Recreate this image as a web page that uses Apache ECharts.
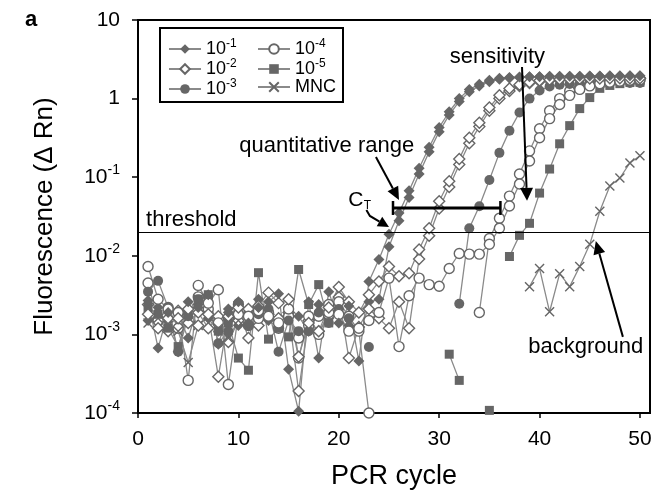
<!DOCTYPE html>
<html><head><meta charset="utf-8">
<script src="https://cdn.jsdelivr.net/npm/echarts@6/dist/echarts.min.js"></script>
<style>html,body{margin:0;padding:0;background:#fff}#c{width:672px;height:496px}</style>
</head><body><div id="c"></div>
<script>
const FONT = '"Liberation Sans", Arial, Helvetica, sans-serif';
const cycles = [1,2,3,4,5,6,7,8,9,10,11,12,13,14,15,16,17,18,19,20,21,22,23,24,25,26,27,28,29,30,31,32,33,34,35,36,37,38,39,40,41,42,43,44,45,46,47,48,49,50];
const xTicks = [0,10,20,30,40,50];
const THRESHOLD = 0.0205;

// 10^-1 (two replicate wells)
const d1a = [0.0027,0.00067,0.0019,0.0006,0.0026,0.0022,0.0032,0.00075,0.0019,0.0026,
  0.0014,0.0022,0.0026,0.0033,0.00036,0.000105,0.0026,0.0005,0.0035,0.0014,
  0.0023,0.00046,0.0047,0.009,0.0188,0.035,0.067,0.13,0.24,0.43,
  0.68,1.0,1.31,1.52,1.71,1.81,1.86,1.88,1.9,1.9,
  1.92,1.92,1.93,1.93,1.94,1.94,1.95,1.95,1.95,1.96];
const d1b = [0.0015,0.0022,0.0012,0.0018,0.0009,0.0024,0.0016,0.0011,0.0021,0.0013,
  0.0019,0.0028,0.0015,0.0012,0.0022,0.0017,0.0011,0.0024,0.0016,0.0021,
  0.0013,0.0019,0.0026,0.0028,0.013,0.028,0.055,0.11,0.21,0.38,
  0.62,0.92,1.22,1.45,1.64,1.76,1.83,1.86,1.88,1.89,
  1.9,1.9,1.91,1.91,1.92,1.92,1.93,1.93,1.94,1.94];
// 10^-2
const d2a = [0.0018,0.0012,0.0016,0.0016,0.0021,0.0013,0.0018,0.00029,0.0017,0.0022,
  0.0009,0.0023,0.0034,0.0025,0.0028,0.00052,0.0014,0.0011,0.0022,0.004,
  0.0026,0.0019,0.0032,0.0047,0.0073,0.0055,0.006,0.012,0.0224,0.0495,
  0.089,0.171,0.318,0.494,0.77,1.1,1.34,1.5,1.62,1.7,
  1.74,1.76,1.78,1.79,1.8,1.8,1.81,1.81,1.82,1.82];
const d2b = [0.0024,0.0016,0.0011,0.002,0.0014,0.0019,0.0012,0.0017,0.0008,0.0015,
  0.0021,0.0013,0.0018,0.0016,0.0019,0.00019,0.0015,0.0011,0.0017,0.003,
  0.0005,0.00124,0.0021,0.0016,0.0012,0.0026,0.0012,0.0091,0.018,0.04,
  0.075,0.145,0.27,0.44,0.7,1.0,1.25,1.45,1.58,1.66,
  1.71,1.74,1.76,1.77,1.78,1.79,1.8,1.8,1.81,1.81];
// 10^-3
const d3 = [0.0035,0.0048,0.0022,0.0006,0.0017,0.0028,0.003,0.00077,0.0011,0.0025,
  0.0013,0.0018,0.0021,0.0006,0.0015,0.0011,0.0011,0.0019,0.0014,0.0021,
  0.0016,null,0.00069,null,null,null,null,null,null,null,
  null,0.00245,0.0224,0.0427,0.092,0.204,0.39,0.664,1.0,1.27,
  1.43,1.5,1.53,1.55,1.56,1.57,1.57,1.58,1.58,1.58];
// 10^-4 (two replicate wells)
const d4a = [0.0073,0.0028,0.0021,0.0019,0.00026,0.0042,0.0025,0.0037,0.00023,0.0018,
  0.0017,0.002,0.0017,0.0014,0.0021,0.0005,0.0017,0.001,0.0019,0.0018,
  0.0011,0.0012,0.0015,0.0019,0.0052,0.0007,0.0031,0.0052,0.0043,0.0041,
  0.0069,0.0107,0.0105,0.0105,0.014,0.0224,0.043,0.082,0.161,0.318,
  0.556,0.84,1.1,1.31,1.45,1.55,1.62,1.67,1.71,1.74];
const d4b = [0.0045,0.0015,0.0022,0.0012,0.0019,0.003,0.0021,0.0014,0.0016,0.0024,
  0.0013,0.0016,0.0019,0.0012,0.0017,0.0009,0.0013,0.0017,0.0024,0.0026,
  0.0017,0.0011,0.0001,null,null,null,null,null,null,null,
  null,null,null,0.0019,0.0166,0.03,0.0575,0.11,0.216,0.414,
  0.7,1.0,1.25,1.42,1.52,1.6,1.65,1.69,1.72,1.75];
// 10^-5
const d5 = [0.0022,0.0018,0.0012,0.0007,0.0018,0.0028,0.0032,0.0011,0.0014,0.0005,
  0.00035,0.0061,0.00087,0.0012,0.00093,0.0067,0.0024,0.0043,0.0014,null,
  null,null,null,null,null,null,null,null,null,null,
  0.00056,0.00026,null,null,0.000108,null,0.0098,0.0182,0.0259,0.0628,
  0.127,0.266,0.453,0.746,1.03,1.35,1.47,1.55,1.6,1.61];
// MNC
const dM = [0.0014,0.0016,0.0013,0.0011,0.00044,0.0013,0.0017,0.0012,0.0009,0.0015,
  null,null,null,null,null,null,null,null,null,null,
  null,null,null,null,null,null,null,null,null,null,
  null,null,null,null,null,null,null,null,0.00405,0.00687,
  0.00194,0.00593,0.00405,0.0073,0.014,0.0369,0.0771,0.0977,0.152,0.187];

const names = ['10^-1','10^-2','10^-3','10^-4','10^-5','MNC'];

const LINE = '#8a8a8a', FILL = '#666666', EDGE = '#666666';
const CROSS = 'path://M0,0L10,10M10,0L0,10';

function pairs(vals){ return cycles.map((c,i)=>[c, vals[i]]); }
function mk(name, vals, symbol, filled, size){
  return {
    name, type:'line', data: pairs(vals), symbol, symbolSize: size,
    connectNulls:false, showAllSymbol:true,
    lineStyle:{color:LINE, width:1.3},
    itemStyle: symbol===CROSS ? {color:'rgba(0,0,0,0)', borderColor:EDGE, borderWidth:1.4}
      : (filled ? {color:FILL, borderColor:FILL, borderWidth:0} : {color:'#fff', borderColor:EDGE, borderWidth:1.4}),
    emphasis:{disabled:true}, animation:false
  };
}

const series = [
  mk(names[0], d1b, 'diamond', true, 11),
  mk(names[1], d2b, 'diamond', false, 11),
  mk(names[3], d4b, 'circle', false, 10),
  mk(names[5], dM, CROSS, false, 9),
  mk(names[4], d5, 'rect', true, 9),
  mk(names[2], d3, 'circle', true, 10),
  mk(names[3], d4a, 'circle', false, 10),
  mk(names[1], d2a, 'diamond', false, 11),
  mk(names[0], d1a, 'diamond', true, 11)
];
series[0].markLine = {silent:true, symbol:['none','none'], label:{show:false},
  lineStyle:{color:'#000', width:1.2, type:'solid'}, data:[{yAxis:THRESHOLD}]};

const legRich = {
  b:{fontSize:18, lineHeight:22, fontFamily:FONT, color:'#000'},
  s:{fontSize:12, lineHeight:11, verticalAlign:'top', fontFamily:FONT, color:'#000'}
};
function legFmt(n){ return n.indexOf('10^')===0 ? '{b|10}{s|'+n.slice(3)+'}' : '{b|'+n+'}'; }
const legBase = {orient:'vertical', itemWidth:32, itemHeight:12, itemGap:0, itemSymbolKeepAspect:true,
  formatter:legFmt, textStyle:{rich:legRich, fontFamily:FONT}, selectedMode:false, padding:0};

const chart = echarts.init(document.getElementById('c'), null, {renderer:'canvas'});
chart.setOption({
  animation:false,
  backgroundColor:'#fff',
  textStyle:{fontFamily:FONT},
  grid:{left:138, right:22, top:20, bottom:83, show:true, borderColor:'#000', borderWidth:2},
  legend:[
    Object.assign({}, legBase, {data:[names[0],names[1],names[2]], left:168, top:38}),
    Object.assign({}, legBase, {data:[names[3],names[4],names[5]], left:257, top:38})
  ],
  xAxis:{type:'value', min:0, max:51, interval:10,
    name:'PCR cycle', nameLocation:'middle', nameGap:50,
    nameTextStyle:{fontSize:27, color:'#000', fontFamily:FONT},
    axisLine:{show:true, lineStyle:{color:'#000', width:1.5}},
    axisTick:{show:true, length:5, lineStyle:{color:'#000', width:1.5}, customValues:xTicks},
    axisLabel:{fontSize:21, color:'#000', margin:16, fontFamily:FONT, customValues:xTicks},
    splitLine:{show:false}},
  yAxis:{type:'log', logBase:10, min:0.0001, max:10,
    name:'Fluorescence (\u0394 Rn)', nameLocation:'middle', nameGap:80,
    nameTextStyle:{fontSize:26, color:'#000', fontFamily:FONT},
    axisLine:{show:true, lineStyle:{color:'#000', width:1.5}},
    axisTick:{show:true, length:6, lineStyle:{color:'#000', width:1.5}},
    axisLabel:{margin:18, color:'#000', fontFamily:FONT,
      formatter:function(v){ const e=Math.round(Math.log10(v));
        if(e===1) return '{b|10}'; if(e===0) return '{b|1}'; return '{b|10}{s|'+e+'}'; },
      rich:{b:{fontSize:21, lineHeight:28, fontFamily:FONT, color:'#000'},
            s:{fontSize:14, lineHeight:14, verticalAlign:'top', fontFamily:FONT, color:'#000'}}},
    splitLine:{show:false}},
  series
});

// annotations anchored in data coordinates
const ann = {
  sensText:[35.8, 3.38],
  sensArrow:[[38.25, 2.52],[38.75, 0.05]],
  quantText:[18.8, 0.25],
  quantArrow:[[23.7, 0.181],[26.0, 0.0513]],
  ctBar:[[25.4, 0.0406],[36.1, 0.0406]],
  ctText:[21.7, 0.0513],
  ctArrow:[[22.75, 0.0383],[23.1, 0.0321],[25.0, 0.0232]],
  threshText:[0.8, 0.029],
  bgText:[44.6, 0.00069],
  bgArrow:[[48.3, 0.00093],[45.6, 0.0154]]
};
const P = p => chart.convertToPixel({gridIndex:0}, p);
function arrowEls(pts, headLen, headW){
  const px = pts.map(P);
  const a = px[px.length-2], b = px[px.length-1];
  const dx=b[0]-a[0], dy=b[1]-a[1], L=Math.hypot(dx,dy), ux=dx/L, uy=dy/L;
  const base=[b[0]-ux*headLen, b[1]-uy*headLen];
  const line = px.slice(0,-1).concat([base]);
  return [
    {type:'polyline', shape:{points:line}, style:{stroke:'#000', lineWidth:2, fill:null}, z:100},
    {type:'polygon', shape:{points:[b,[base[0]-uy*headW/2, base[1]+ux*headW/2],[base[0]+uy*headW/2, base[1]-ux*headW/2]]},
      style:{fill:'#000'}, z:100}
  ];
}
function txt(p, text, size, align, extra){
  const q=P(p);
  return Object.assign({type:'text', x:q[0], y:q[1], z:100,
    style:{text, fill:'#000', font:size+'px '+FONT, align:align||'center', verticalAlign:'middle'}}, extra||{});
}
const bar = ann.ctBar.map(P);
const g = [
  {type:'rect', shape:{x:160, y:28, width:183, height:74}, style:{fill:null, stroke:'#000', lineWidth:2}, z:100},
  {type:'text', x:25, y:9, style:{text:'a', fill:'#000', font:'bold 22px '+FONT}, z:100},
  txt(ann.sensText, 'sensitivity', 22),
  txt(ann.quantText, 'quantitative range', 22),
  txt(ann.threshText, 'threshold', 22, 'left'),
  txt(ann.bgText, 'background', 22),
  txt(ann.ctText, 'C', 21),
  {type:'text', x:P(ann.ctText)[0]+8, y:P(ann.ctText)[1]+6, z:100,
    style:{text:'T', fill:'#000', font:'12px '+FONT, align:'left', verticalAlign:'middle'}},
  {type:'line', shape:{x1:bar[0][0], y1:bar[0][1], x2:bar[1][0], y2:bar[1][1]}, style:{stroke:'#000', lineWidth:3}, z:100},
  {type:'line', shape:{x1:bar[0][0], y1:bar[0][1]-7, x2:bar[0][0], y2:bar[0][1]+7}, style:{stroke:'#000', lineWidth:2.5}, z:100},
  {type:'line', shape:{x1:bar[1][0], y1:bar[1][1]-7, x2:bar[1][0], y2:bar[1][1]+7}, style:{stroke:'#000', lineWidth:2.5}, z:100}
].concat(arrowEls(ann.sensArrow, 13, 13), arrowEls(ann.quantArrow, 13, 12),
         arrowEls(ann.ctArrow, 11, 11), arrowEls(ann.bgArrow, 13, 12));
chart.setOption({graphic:g});
</script></body></html>
